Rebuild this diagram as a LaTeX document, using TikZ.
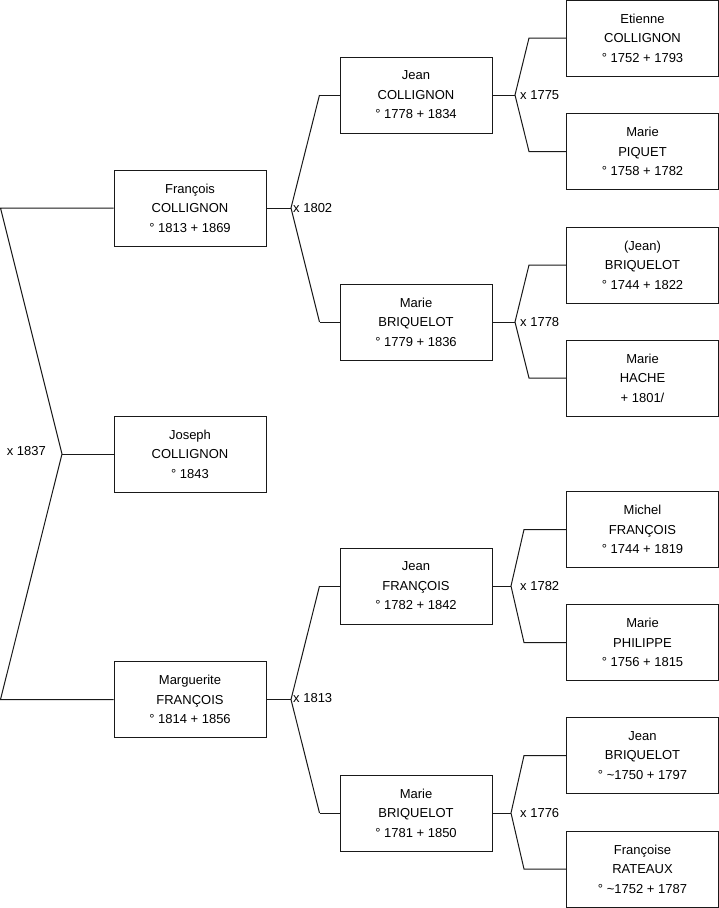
\documentclass[tikz,border=0pt]{standalone}
\usepackage{fontspec}
\setmainfont{Liberation Sans}
\tikzset{
  person/.style={draw=black!90, line width=1pt, fill=white, minimum width=152pt,
    minimum height=76pt, inner sep=0pt, align=center,
    font=\fontsize{13}{19.5}\selectfont},
  union/.style={inner sep=0pt, font=\fontsize{13}{16}\selectfont},
  link/.style={draw=black!90, line width=1pt}
}

\begin{document}
\begin{tikzpicture}[x=1pt,y=-1pt]
  \useasboundingbox[fill=white] (0,0) rectangle (719,908);
  % generation 1 and 2
  \node[person] (francois) at (190,208) {François\\COLLIGNON\\° 1813 + 1869};
  \node[person] (joseph) at (190,454) {Joseph\\COLLIGNON\\° 1843};
  \node[person] (marguerite) at (190,699.5) {Marguerite\\FRANÇOIS\\° 1814 + 1856};
  % generation 3
  \node[person] (jeanC) at (416,95) {Jean\\COLLIGNON\\° 1778 + 1834};
  \node[person] (marieB1) at (416,322) {Marie\\BRIQUELOT\\° 1779 + 1836};
  \node[person] (jeanF) at (416,586) {Jean\\FRANÇOIS\\° 1782 + 1842};
  \node[person] (marieB2) at (416,813) {Marie\\BRIQUELOT\\° 1781 + 1850};
  % generation 4
  \node[person] (etienne) at (642.5,38) {Etienne\\COLLIGNON\\° 1752 + 1793};
  \node[person] (piquet) at (642.5,151.5) {Marie\\PIQUET\\° 1758 + 1782};
  \node[person] (jeanB1) at (642.5,265) {(Jean)\\BRIQUELOT\\° 1744 + 1822};
  \node[person] (hache) at (642.5,378) {Marie\\HACHE\\+ 1801/};
  \node[person] (michel) at (642.5,529.5) {Michel\\FRANÇOIS\\° 1744 + 1819};
  \node[person] (philippe) at (642.5,642.5) {Marie\\PHILIPPE\\° 1756 + 1815};
  \node[person] (jeanB2) at (642.5,755.5) {Jean\\BRIQUELOT\\° \textasciitilde1750 + 1797};
  \node[person] (rateaux) at (642.5,869) {Françoise\\RATEAUX\\° \textasciitilde1752 + 1787};

  % marriage points
  \coordinate (topL) at (0.5,208);
  \coordinate (botL) at (0.5,699.5);
  \coordinate (v1837) at (62,454);
  \coordinate (v1802) at (291,208);
  \coordinate (v1813) at (291,699.5);
  \coordinate (v1775) at (515,95);
  \coordinate (v1778) at (515,322);
  \coordinate (v1782) at (511,586);
  \coordinate (v1776) at (511,813);

  \draw[link] (francois.west) -- (topL) -- (v1837) -- (botL) -- (marguerite.west);
  \draw[link] (v1837) -- (joseph.west);
  \draw[link] (francois.east) -- (v1802);
  \draw[link] ([xshift=-20pt]jeanC.west) -- (v1802) -- ([xshift=-20pt]marieB1.west);
  \draw[link] (jeanC.west) -- ([xshift=-20pt]jeanC.west);
  \draw[link] (marieB1.west) -- ([xshift=-20pt]marieB1.west);
  \draw[link] (marguerite.east) -- (v1813);
  \draw[link] ([xshift=-20pt]jeanF.west) -- (v1813) -- ([xshift=-20pt]marieB2.west);
  \draw[link] (jeanF.west) -- ([xshift=-20pt]jeanF.west);
  \draw[link] (marieB2.west) -- ([xshift=-20pt]marieB2.west);

  \draw[link] (jeanC.east) -- (v1775);
  \draw[link] (etienne.west) -- ++(-37,0) -- (v1775) -- ([xshift=-37pt]piquet.west) -- (piquet.west);
  \draw[link] (marieB1.east) -- (v1778);
  \draw[link] (jeanB1.west) -- ++(-37,0) -- (v1778) -- ([xshift=-37pt]hache.west) -- (hache.west);
  \draw[link] (jeanF.east) -- (v1782);
  \draw[link] (michel.west) -- ++(-42,0) -- (v1782) -- ([xshift=-42pt]philippe.west) -- (philippe.west);
  \draw[link] (marieB2.east) -- (v1776);
  \draw[link] (jeanB2.west) -- ++(-42,0) -- (v1776) -- ([xshift=-42pt]rateaux.west) -- (rateaux.west);

  % marriage years
  \node[union,anchor=east] (m1837) at (46,451) {x 1837};
  \node[union,anchor=west] (m1802) at (293,208) {x 1802};
  \node[union,anchor=west] (m1813) at (293,698) {x 1813};
  \node[union,anchor=west] (m1775) at (520,95) {x 1775};
  \node[union,anchor=west] (m1778) at (520,322) {x 1778};
  \node[union,anchor=west] (m1782) at (520,586) {x 1782};
  \node[union,anchor=west] (m1776) at (520,813) {x 1776};
\end{tikzpicture}
\end{document}
